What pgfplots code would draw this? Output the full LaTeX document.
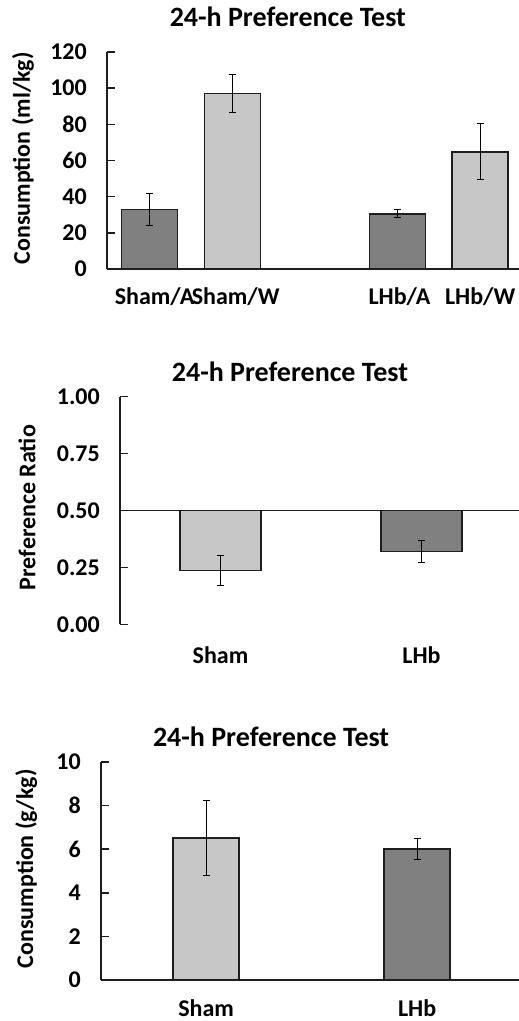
\documentclass[border=0pt]{standalone}
\usepackage{fontspec}
\setmainfont{Carlito}
\usepackage{pgfplots}
\pgfplotsset{compat=1.18}

\definecolor{darkbar}{RGB}{128,128,128}
\definecolor{lightbar}{RGB}{199,199,199}
\definecolor{edge}{RGB}{30,30,30}

\newcommand{\lblfont}{\bfseries\fontsize{24}{24}\selectfont}
\newcommand{\ttlfont}{\bfseries\fontsize{28}{28}\selectfont}

\pgfplotsset{
  panel/.style={
    scale only axis,
    clip=false,
    enlargelimits=false,
    axis lines=left,
    axis line style={-, line width=1.7pt, edge},
    tick align=inside,
    major tick length=8pt,
    ytick style={line width=1.5pt, edge},
    xtick style={draw=none},
    /pgf/number format/assume math mode=true,
    tick label style={font=\lblfont},
    yticklabel style={anchor=east, inner sep=0pt, xshift=-20pt},
    xticklabel style={anchor=center, inner sep=0pt},
    label style={font=\lblfont},
    title style={font=\ttlfont, anchor=center},
  },
  bars/.style={
    ybar, bar shift=0pt, draw=edge, line width=1.4pt,
    error bars/y dir=both, error bars/y explicit,
    error bars/error bar style={line width=1pt, black},
    error bars/error mark options={rotate=90, mark size=3.5pt, line width=1pt, black},
  },
}

\begin{document}
\begin{tikzpicture}
\path[use as bounding box] (0,0) rectangle (519pt,1021pt);

% top panel: consumption (ml/kg)
\begin{axis}[panel,
  at={(107pt,752pt)}, anchor=south west,
  width=412pt, height=217pt,
  xmin=-0.515, xmax=4.47, ymin=0, ymax=120,
  ytick={0,20,...,120},
  xtick={0,1,3,4},
  xticklabels={\hspace{10pt}Sham/A,\hspace{7pt}Sham/W,\hspace{4pt}LHb/A,LHb/W},
  xticklabel style={yshift=-28pt},
  ylabel={Consumption (ml/kg)},
  ylabel style={at={(axis description cs:-0.204,0.51)}, anchor=center},
  title={24-h Preference Test},
  title style={at={(axis description cs:0.439,1.134)}},
]
\addplot[bars, fill=darkbar, bar width=56pt] coordinates {
  (0,33) +- (0,8.8)
  (3,30.5) +- (0,2.3)
};
\addplot[bars, fill=lightbar, bar width=56pt] coordinates {
  (1,97) +- (0,10.6)
  (4,64.8) +- (0,15.5)
};
\end{axis}

% middle panel: preference ratio, bars hang from 0.5
\begin{axis}[panel,
  at={(120pt,396.7pt)}, anchor=south west,
  width=399pt, height=227.6pt,
  y coord trafo/.code={\pgfmathparse{#1-0.5}},
  y coord inv trafo/.code={\pgfmathparse{#1+0.5}},
  x axis line style={draw=none},
  xmin=-0.5, xmax=1.485, ymin=0, ymax=1,
  ytick={0,0.25,0.5,0.75,1},
  yticklabels={0.00,0.25,0.50,0.75,1.00},
  xtick={0,1},
  xticklabels={Sham,LHb},
  xticklabel style={yshift=-31pt},
  ylabel={Preference Ratio},
  ylabel style={at={(axis description cs:-0.233,0.513)}, anchor=center},
  title={24-h Preference Test},
  title style={at={(axis description cs:0.426,1.082)}},
]
\addplot[bars, fill=lightbar, bar width=81pt] coordinates {
  (0,0.237) +- (0,0.065)
};
\addplot[bars, fill=darkbar, bar width=81pt] coordinates {
  (1,0.319) +- (0,0.047)
};
\draw[line width=1.7pt, edge] (rel axis cs:0,0.5) -- (rel axis cs:1,0.5);
\end{axis}

% bottom panel: consumption (g/kg)
\begin{axis}[panel,
  at={(101pt,41pt)}, anchor=south west,
  width=418pt, height=218pt,
  xmin=-0.498, xmax=1.483, ymin=0, ymax=10,
  ytick={0,2,...,10},
  xtick={0,1},
  xticklabels={Sham,LHb},
  xticklabel style={yshift=-28pt},
  ylabel={Consumption (g/kg)},
  ylabel style={at={(axis description cs:-0.179,0.51)}, anchor=center},
  title={24-h Preference Test},
  title style={at={(axis description cs:0.407,1.087)}},
]
\addplot[bars, fill=lightbar, bar width=66pt] coordinates {
  (0,6.52) +- (0,1.72)
};
\addplot[bars, fill=darkbar, bar width=66pt] coordinates {
  (1,6.0) +- (0,0.47)
};
\end{axis}
\end{tikzpicture}
\end{document}
